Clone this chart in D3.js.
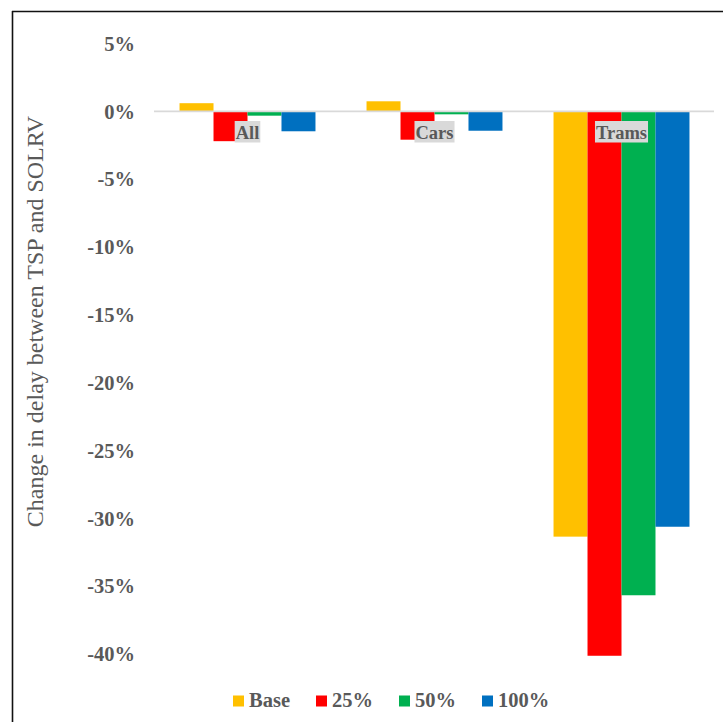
<!DOCTYPE html>
<html>
<head>
<meta charset="utf-8">
<script src="https://cdn.jsdelivr.net/npm/d3@7"></script>
<style>
  html, body { margin: 0; padding: 0; background: #fff; }
  svg { display: block; }
</style>
</head>
<body>
<svg id="chart" width="723" height="722"></svg>
<script>
// Change in delay (%) between TSP and SOLRV, by road user group and scenario
const categories = ["All", "Cars", "Trams"];
const seriesNames = ["Base", "25%", "50%", "100%"];
const baseValues = [0.6, 0.74, -31.35];
const pct25Values = [-2.2, -2.09, -40.13];
const pct50Values = [-0.32, -0.22, -35.67];
const pct100Values = [-1.47, -1.43, -30.62];
const yTicks = [5, 0, -5, -10, -15, -20, -25, -30, -35, -40];
const colors = ["#FFC000", "#FF0000", "#00B050", "#0070C0"];

const seriesValues = [baseValues, pct25Values, pct50Values, pct100Values];
const rows = categories.map((c, i) => ({
  category: c,
  values: seriesNames.map((s, j) => ({ series: s, value: seriesValues[j][i], color: colors[j] }))
}));

const svg = d3.select("#chart");
const textGray = "#595959";
const serif = "'Liberation Serif', 'Times New Roman', Times, serif";

// chart frame (left and top edges)
svg.append("line").attr("x1", 12.5).attr("x2", 12.5).attr("y1", 11).attr("y2", 722)
  .attr("stroke", "#111").attr("stroke-width", 1.6);
svg.append("line").attr("x1", 12).attr("x2", 723).attr("y1", 11.5).attr("y2", 11.5)
  .attr("stroke", "#111").attr("stroke-width", 1.6);

const x0 = d3.scaleBand().domain(categories).range([154, 715]).paddingInner(0.273).paddingOuter(0.1365);
const x1 = d3.scaleBand().domain(seriesNames).range([0, x0.bandwidth()]);
const y = d3.scaleLinear().domain([-40, 5]).range([654, 43.5]);

// value axis: labels only
const yAxis = d3.axisLeft(y).tickValues(yTicks).tickSize(0).tickPadding(0)
  .tickFormat(d => d + "%");
const yg = svg.append("g").attr("transform", "translate(135,0)").call(yAxis);
yg.select(".domain").remove();
yg.selectAll("text")
  .attr("font-family", serif).attr("font-weight", "bold").attr("font-size", 20.5)
  .attr("fill", textGray).attr("dy", "0.33em");

// axis title
svg.append("text")
  .attr("transform", `translate(43,${(113 + 530) / 2}) rotate(-90)`)
  .attr("text-anchor", "middle")
  .attr("font-family", serif).attr("font-size", 24)
  .attr("fill", textGray)
  .text("Change in delay between TSP and SOLRV");

// bars
const groups = svg.append("g").selectAll("g").data(rows).join("g")
  .attr("transform", d => `translate(${x0(d.category)},0)`);
groups.selectAll("rect").data(d => d.values).join("rect")
  .attr("x", d => x1(d.series))
  .attr("width", x1.bandwidth())
  .attr("y", d => y(Math.max(0, d.value)))
  .attr("height", d => Math.abs(y(d.value) - y(0)))
  .attr("fill", d => d.color);

// zero line
svg.append("line")
  .attr("x1", 154).attr("x2", 714)
  .attr("y1", y(0)).attr("y2", y(0))
  .attr("stroke", "#d9d9d9").attr("stroke-width", 1.6);

// category labels with shaded background, just below the zero line
const catG = svg.append("g").selectAll("g").data(categories).join("g")
  .attr("transform", d => `translate(${x0(d) + x0.bandwidth() / 2},0)`);
catG.append("text")
  .attr("text-anchor", "middle").attr("y", 138.5)
  .attr("font-family", serif).attr("font-weight", "bold").attr("font-size", 18.5)
  .attr("fill", textGray)
  .text(d => d);
catG.each(function() {
  const g = d3.select(this);
  const w = g.select("text").node().getComputedTextLength();
  g.insert("rect", "text")
    .attr("x", -w / 2 - 1).attr("y", 121)
    .attr("width", w + 2).attr("height", 21.5)
    .attr("fill", "#d9d9d9");
});

// legend
const legend = svg.append("g");
let lx = 233;
seriesNames.forEach((s, i) => {
  const item = legend.append("g").attr("transform", `translate(${lx},0)`);
  item.append("rect").attr("x", 0).attr("y", 695.5).attr("width", 11).attr("height", 11)
    .attr("fill", colors[i]);
  const t = item.append("text").attr("x", 16).attr("y", 706.5)
    .attr("font-family", serif).attr("font-weight", "bold").attr("font-size", 20.5)
    .attr("fill", textGray).text(s);
  lx += 16 + t.node().getComputedTextLength() + 26;
});
</script>
</body>
</html>
